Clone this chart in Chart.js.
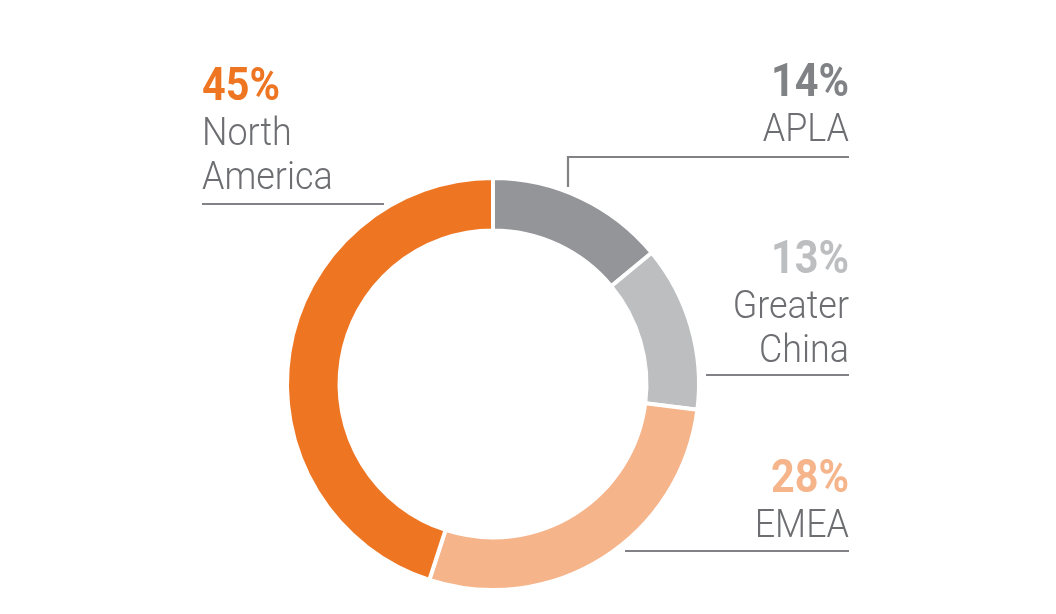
<!DOCTYPE html>
<html>
<head>
<meta charset="utf-8">
<script src="https://cdn.jsdelivr.net/npm/chart.js@4.4.1/dist/chart.umd.min.js"></script>
<style>
  html, body { margin: 0; padding: 0; background: #ffffff; }
  #wrap { position: relative; width: 1056px; height: 614px; }
</style>
</head>
<body>
<div id="wrap"><canvas id="graph"></canvas></div>
<script>
// Données : part du chiffre d'affaires par région
const regions = ['APLA', 'Greater China', 'EMEA', 'North America'];
const shares = [14, 13, 28, 45];
const nameLines = [['APLA'], ['Greater', 'China'], ['EMEA'], ['North', 'America']];
const sliceColors = ['#939598', '#bcbec0', '#f5b48a', '#ee7623'];
const pctColors = ['#808285', '#bcbec0', '#f5b48a', '#ee7623'];

// Placement des étiquettes (x, ligne de base du %, alignement, trait)
const labelPos = [
    { x: 849, y: 96, align: 'right', line: [[568, 187], [568, 157], [849, 157]] },
    { x: 849, y: 273, align: 'right', line: [[706, 375], [849, 375]] },
    { x: 849, y: 492, align: 'right', line: [[625, 551], [849, 551]] },
    { x: 202, y: 100, align: 'left', line: [[202, 204], [384, 204]] }
];

const labelsPlugin = {
    id: 'regionLabels',
    afterDraw(chart) {
        const ctx = chart.ctx;
        ctx.save();
        labelPos.forEach((pos, i) => {
            // trait de rappel
            ctx.beginPath();
            ctx.strokeStyle = '#808285';
            ctx.lineWidth = 2.2;
            pos.line.forEach((p, k) => k === 0 ? ctx.moveTo(p[0], p[1]) : ctx.lineTo(p[0], p[1]));
            ctx.stroke();

            const drawText = (txt, y, font, color, sx) => {
                ctx.save();
                ctx.translate(pos.x, y);
                ctx.scale(sx, 1);
                ctx.font = font;
                ctx.fillStyle = color;
                ctx.textAlign = pos.align;
                ctx.textBaseline = 'alphabetic';
                ctx.fillText(txt, 0, 0);
                ctx.restore();
            };
            drawText(shares[i] + '%', pos.y, 'bold 47px Roboto', pctColors[i], 0.88);
            nameLines[i].forEach((t, k) => {
                drawText(t, pos.y + 45 + k * 44, '300 39px Roboto', '#6d6e71', 0.92);
            });
        });
        ctx.restore();
    }
};

const ctx = document.getElementById('graph').getContext('2d');
new Chart(ctx, {
    type: 'doughnut',
    data: {
        labels: regions,
        datasets: [{
            data: shares,
            backgroundColor: sliceColors,
            borderColor: '#ffffff',
            borderWidth: 4,
            hoverOffset: 0
        }]
    },
    options: {
        responsive: true,
        maintainAspectRatio: false,
        animation: false,
        cutout: '74.5%',
        layout: { padding: { left: 285, right: 355, top: 176, bottom: 22 } },
        plugins: {
            legend: { display: false },
            tooltip: { enabled: false }
        }
    },
    plugins: [labelsPlugin]
});
</script>
</body>
</html>
